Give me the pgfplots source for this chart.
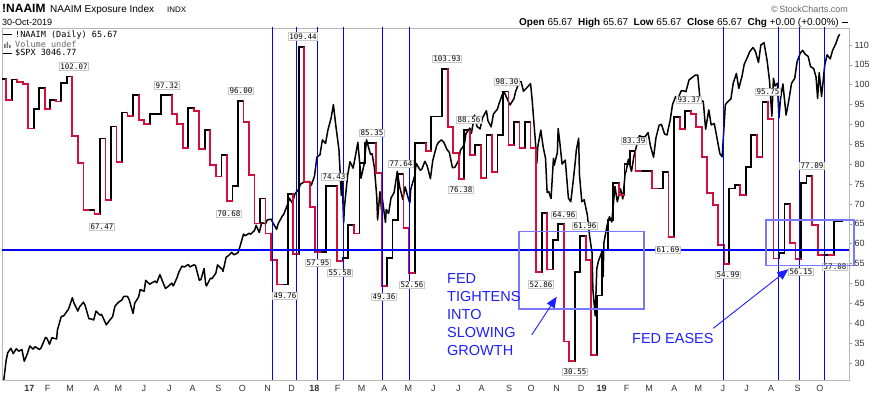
\documentclass[border=0pt]{standalone}
\usepackage{pgfplots}
\pgfplotsset{compat=1.18}
\usepackage{pgfplotstable}
\usepackage{fontspec}
\setmainfont{Liberation Sans}
\newfontfamily\mono{DejaVu Sans Mono}
\usetikzlibrary{arrows.meta}
\definecolor{nred}{RGB}{210,16,60}
\definecolor{fedblue}{RGB}{30,30,255}
\definecolor{boxblue}{RGB}{120,120,255}
\definecolor{lblgray}{RGB}{200,200,200}

\pgfplotstableread{
k val
-2 97.9
-1 101.4
0 96.2
1 101.3
2 100.7
3 100.1
4 89.0
5 93.8
6 99.1
7 93.8
8 96.2
9 95.8
10 100.5
11 102.07
12 87.1
13 80.4
14 68.5
15 68.5
16 67.47
17 86.5
18 71.0
19 89.5
20 80.6
21 93.0
22 92.2
23 97.4
24 91.1
25 90.1
26 92.7
27 92.7
28 97.32
29 97.32
30 92.7
31 90.1
32 84.0
33 94.1
34 93.3
35 83.8
36 88.6
37 79.8
38 76.9
39 82.3
40 70.68
41 74.5
42 96.0
43 90.7
44 77.3
45 65.1
46 71.4
47 62.6
48 55.9
49 49.76
50 49.76
51 72.6
52 57.5
53 109.44
54 75.6
55 69.3
56 57.95
57 57.95
58 74.43
59 74.43
60 55.58
61 56.4
62 64.7
63 62.6
64 80.4
65 85.35
66 85.35
67 77.8
68 49.36
69 56.4
70 66.0
71 77.64
72 63.9
73 52.56
74 85.3
75 85.3
76 83.3
77 92.0
78 92.0
79 103.93
80 89.4
81 82.8
82 76.38
83 88.56
84 82.4
85 84.8
86 76.5
87 87.4
88 78.1
89 87.4
90 98.30
91 84.8
92 90.7
93 84.0
94 90.7
95 84.0
96 52.86
97 67.7
98 53.5
99 61.0
100 64.96
101 35.4
102 30.55
103 52.9
104 61.96
105 55.9
106 32.0
107 47.0
108 58.5
109 66.0
110 75.2
111 72.3
112 80.0
113 83.39
114 78.3
115 78.3
116 78.3
117 73.9
118 73.9
119 78.1
120 61.69
121 91.8
122 88.8
123 93.37
124 92.6
125 89.4
126 81.9
127 72.7
128 69.7
129 59.7
130 54.99
131 73.9
132 74.8
133 72.3
134 79.4
135 87.4
136 81.9
137 95.75
138 91.3
139 56.3
140 57.6
141 70.0
142 60.1
143 56.15
144 75.2
145 77.09
146 64.7
147 57.2
148 57.2
149 57.08
150 65.67
151.571 65.67
}\naaim

\pgfplotstablecreatecol[
  create col/assign/.code={%
    \ifnum\pgfplotstablerow=0
      \getthisrow{val}\pv
    \else
      \getprevrow{val}\pv
    \fi
    \pgfkeyslet{/pgfplots/table/create col/next content}\pv
  }]{prev}\naaim

\pgfplotstableread{
d v
-34 2202
-31 2191
-28 2192
-25 2241
-23 2260
-19 2271
-16 2258
-12 2270
-9 2264
-5 2268
-2 2239
2 2258
5 2277
9 2269
12 2275
17 2268
19 2271
25 2298
27 2295
30 2281
33 2297
39 2294
40 2316
45 2350
48 2351
53 2365
54 2367
59 2396
61 2383
66 2363
68 2373
73 2385
75 2378
80 2344
82 2344
86 2341
89 2363
94 2353
96 2355
102 2329
107 2342
110 2349
113 2375
117 2384
122 2391
124 2399
129 2399
131 2391
136 2357
138 2382
143 2398
145 2416
150 2412
152 2439
157 2429
159 2432
164 2437
166 2433
170 2453
173 2438
177 2419
180 2423
185 2432
187 2425
192 2447
194 2459
198 2474
201 2472
206 2478
208 2472
213 2477
215 2476
220 2439
222 2441
226 2468
228 2430
229 2425
234 2444
236 2443
241 2457
243 2477
249 2466
250 2461
254 2496
257 2500
261 2508
264 2502
269 2507
271 2519
276 2553
278 2549
283 2555
285 2553
290 2562
292 2575
296 2557
299 2581
304 2579
306 2588
311 2590
313 2582
318 2565
320 2579
325 2597
327 2602
332 2627
334 2642
338 2630
341 2652
346 2664
348 2676
352 2681
355 2683
360 2683
362 2674
366 2696
369 2743
373 2749
376 2786
380 2777
383 2810
387 2839
390 2873
393 2822
397 2762
400 2649
401 2696
403 2581
404 2620
408 2698
411 2732
415 2716
418 2747
421 2780
424 2714
425 2691
429 2726
432 2786
437 2750
439 2752
442 2717
445 2644
446 2588
449 2658
451 2613
452 2641
456 2582
457 2614
460 2604
463 2642
467 2656
471 2708
474 2670
478 2639
481 2670
484 2648
486 2635
487 2630
488 2663
493 2697
495 2728
500 2711
502 2713
506 2733
509 2721
513 2690
516 2735
521 2772
523 2779
527 2786
530 2780
534 2762
537 2755
541 2717
544 2718
549 2736
551 2760
556 2774
558 2801
563 2815
565 2802
569 2847
572 2819
576 2813
579 2840
584 2858
586 2833
590 2818
593 2850
598 2862
600 2875
604 2897
607 2902
612 2880
614 2872
619 2888
621 2905
626 2930
628 2930
631 2906
635 2914
640 2925
642 2885
646 2785
648 2728
649 2767
653 2810
656 2768
659 2740
661 2656
663 2658
666 2641
669 2740
670 2723
674 2755
675 2814
677 2781
680 2726
684 2736
688 2642
691 2633
694 2683
697 2738
698 2760
701 2790
702 2700
705 2633
708 2638
712 2600
715 2546
718 2507
719 2417
722 2351
724 2468
726 2486
730 2507
732 2448
733 2532
737 2574
740 2596
743 2583
747 2671
750 2633
754 2665
757 2640
760 2704
761 2707
764 2738
768 2708
771 2745
775 2776
778 2796
782 2793
785 2793
789 2804
792 2771
796 2743
799 2791
803 2822
806 2824
810 2800
813 2798
817 2834
820 2873
824 2893
827 2888
831 2907
834 2907
837 2905
841 2934
845 2940
849 2946
852 2946
855 2884
859 2881
862 2812
866 2860
869 2823
873 2826
877 2784
880 2752
883 2744
887 2873
890 2880
894 2887
897 2926
901 2950
904 2913
908 2942
911 2973
915 2990
918 3004
922 3014
925 3005
929 2977
932 3020
936 3026
940 2981
943 2932
946 2844
948 2938
950 2919
953 2926
955 2840
957 2889
960 2924
964 2847
967 2878
971 2926
975 2938
978 2979
982 3000
985 3007
988 2998
992 2992
995 2967
999 2962
1002 2941
1004 2888
1006 2952
1009 2893
1013 2970
1016 2996
1020 2986
1023 3007
1027 3023
1030 3040
1032 3046.77
}\spx

\newcommand\lab[3]{\node[draw=lblgray, fill=white, inner sep=1pt, line width=0.8pt,
  font=\mono\fontsize{7.5}{8}\selectfont] at (#1,{393-#2}) {#3};}

\begin{document}
\begin{tikzpicture}
\useasboundingbox (0,0) rectangle (873pt,393pt);
% SPX on its own hidden scale
\begin{axis}[at={(2pt,13pt)}, anchor=south west, scale only axis,
  width=847pt, height=352pt,
  xmin=-34.24, xmax=1039.8, ymin=2192.75, ymax=3062.2,
  hide axis]
\addplot[black, line width=1.5pt, no markers, line join=round] table[x expr={\thisrow{d}-4}, y=v] \spx;
\end{axis}
% NAAIM main axis
\begin{axis}[at={(2pt,13pt)}, anchor=south west, scale only axis,
  width=847pt, height=352pt,
  xmin=-34.24, xmax=1039.8, ymin=25.72, ymax=114.28,
  clip mode=individual,
  axis line style={draw=black!28, line width=0.8pt},
  ytick={30,35,...,110}, ytick pos=right, yticklabel pos=right,
  tick align=outside, major tick length=3pt,
  ytick style={draw=black!40, line width=0.6pt},
  xtick={0.4,23.7,52.0,85.8,113.2,145.8,177.9,207.6,240.0,270.5,302.7,333.1,361.8,391.5,421.9,450.5,481.0,512.9,544.4,574.1,608.7,636.6,669.2,700.0,726.2,757.9,786.2,818.3,848.7,879.7,910.1,940.9,974.7,1003.0},
  xticklabels={\textbf{17},F,M,A,M,J,J,A,S,O,N,D,\textbf{18},F,M,A,M,J,J,A,S,O,N,D,\textbf{19},F,M,A,M,J,J,A,S,O},
  xtick pos=bottom, xtick style={draw=none},
  /pgf/number format/assume math mode=true,
  ticklabel style={font=\fontsize{9}{10}\selectfont, text=black!80},
  xticklabel style={yshift=1pt},
  yticklabel style={xshift=-1pt},
]
\addplot[black, line width=1.8pt, const plot mark left, no markers, line join=miter] table[x expr={-29+7*\thisrow{k}}, y=val] \naaim;
\addplot[nred, line width=1.8pt, no markers, line cap=round, quiver={u=0, v={\thisrow{val}-\thisrow{prev}}}]
  table[x expr={-29+7*\thisrow{k}}, y expr={\thisrow{val}<\thisrow{prev} ? \thisrow{prev} : nan}] \naaim;
\addplot[nred, line width=1.8pt, no markers, line cap=round, quiver={u=7, v=0}]
  table[x expr={-29+7*\thisrow{k}}, y expr={\thisrow{val}<\thisrow{prev} ? \thisrow{val} : nan}] \naaim;
% reference lines
\pgfplotsinvokeforeach{308.1,338.6,365.2,398.2,447.6,481.9,880.0,949.8,976.4,1008.1}{
  \addplot[blue, line width=0.9pt] coordinates {(#1,20) (#1,120)};
}
\addplot[blue, line width=2.6pt] coordinates {(-40,58.4) (1039.8,58.4)};
\end{axis}

\begin{scope}[x=1pt, y=1pt]
% header
\node[anchor=base west, inner sep=0] at (2,380) {\fontsize{12}{12}\selectfont\bfseries !NAAIM};
\node[anchor=base west, inner sep=0] at (50,380) {\fontsize{10}{10}\selectfont NAAIM Exposure Index};
\node[anchor=base west, inner sep=0] at (167,380) {\fontsize{8}{8}\selectfont INDX};
\node[anchor=base west, inner sep=0] at (2,367) {\fontsize{9}{9}\selectfont 30-Oct-2019};
\node[anchor=base east, inner sep=0, text=black!60] at (848,380.5) {\fontsize{9}{9}\selectfont \char"00A9\,StockCharts.com};
\node[anchor=base east, inner sep=0] at (839,367) {\fontsize{10}{10}\selectfont \textbf{Open} 65.67\ \ \textbf{High} 65.67\ \ \textbf{Low} 65.67\ \ \textbf{Close} 65.67\ \ \textbf{Chg} +0.00 (+0.00\%)};
\draw[line width=1.3pt] (842,370.5) -- (848,370.5);
% legend
\draw[line width=1.3pt] (3,358.7) -- (12,358.7);
\node[anchor=base west, inner sep=0] at (15,355.3) {\mono\fontsize{8.5}{9}\selectfont !NAAIM (Daily) 65.67};
\fill[black!55] (4,345) rectangle (5.5,349) (6.5,345) rectangle (8,351) (9,345) rectangle (10.5,348);
\node[anchor=base west, inner sep=0, text=black!60] at (15,345) {\mono\fontsize{8.5}{9}\selectfont Volume undef};
\draw[line width=1.3pt] (3,339.7) -- (12,339.7);
\node[anchor=base west, inner sep=0] at (15,337) {\mono\fontsize{8.5}{9}\selectfont \$SPX 3046.77};
% value labels
\lab{74}{66.7}{102.07}
\lab{102}{227}{67.47}
\lab{167}{85.7}{97.32}
\lab{241}{91}{96.00}
\lab{229}{214}{70.68}
\lab{285}{296}{49.76}
\lab{303}{36.5}{109.44}
\lab{318}{263}{57.95}
\lab{334}{177}{74.43}
\lab{340}{273}{55.58}
\lab{372}{133}{85.35}
\lab{384}{297}{49.36}
\lab{401}{164}{77.64}
\lab{412}{285}{52.56}
\lab{447}{59}{103.93}
\lab{469}{120}{88.56}
\lab{461}{190}{76.38}
\lab{507}{82}{98.30}
\lab{541}{284.7}{52.86}
\lab{564}{215}{64.96}
\lab{585}{226}{61.96}
\lab{575}{372}{30.55}
\lab{634}{141}{83.39}
\lab{668}{250}{61.69}
\lab{689}{100}{93.37}
\lab{728}{275}{54.99}
\lab{768}{92}{95.75}
\lab{812}{166}{77.09}
\lab{801}{272}{56.15}
\lab{835}{267}{57.08}
% annotation boxes
\draw[boxblue, line width=1.6pt] (519,161.3) rectangle (644,83.7);
\draw[boxblue, line width=1.6pt] (766,173) rectangle (854,127.3);
% texts
\begin{scope}[every node/.style={anchor=base west, inner sep=0, text=fedblue, font=\fontsize{14.5}{15}\selectfont}]
\node at (447,109) {FED};
\node at (447,91) {TIGHTENS};
\node at (447,73) {INTO};
\node at (447,55) {SLOWING};
\node at (447,37) {GROWTH};
\node at (632,49.7) {FED EASES};
\end{scope}
% arrows
\draw[fedblue, line width=0.9pt, -{Triangle[length=11pt,width=9pt]}] (531.7,58) -- (556.7,96.3);
\draw[fedblue, line width=0.9pt, -{Triangle[length=11pt,width=9pt]}] (713.3,64.7) -- (788.3,123.7);
\end{scope}
\end{tikzpicture}
\end{document}
